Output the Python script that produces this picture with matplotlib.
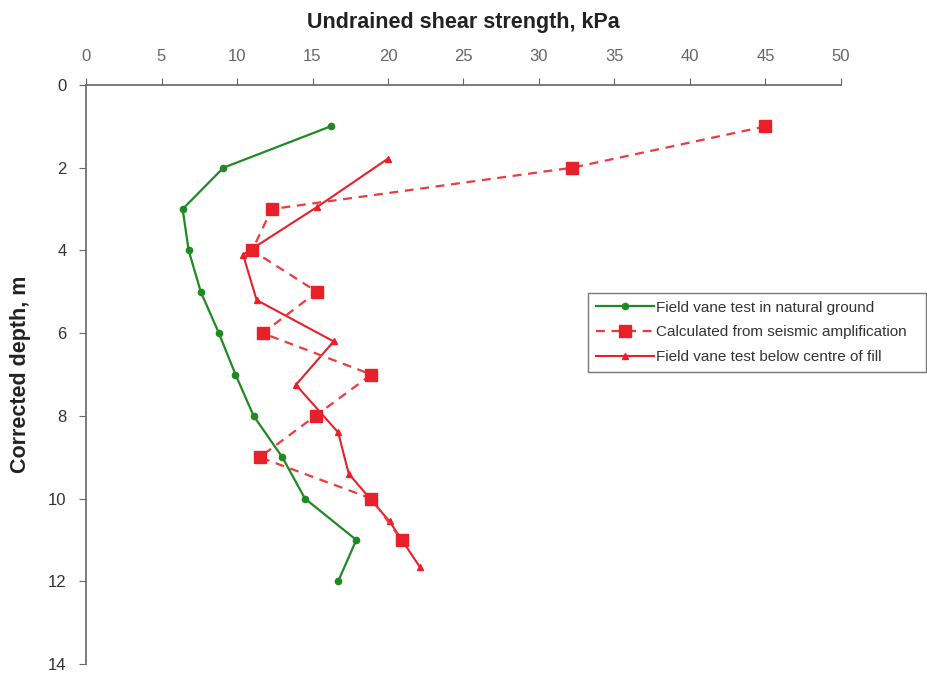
import matplotlib
matplotlib.use("Agg")
import matplotlib.pyplot as plt

plt.rcParams['font.family'] = ['Liberation Sans', 'DejaVu Sans']

# Field vane test in natural ground
green_su = [16.2, 9.1, 6.4, 6.8, 7.6, 8.8, 9.9, 11.1, 13.0, 14.5, 17.9, 16.7]
green_z = [1, 2, 3, 4, 5, 6, 7, 8, 9, 10, 11, 12]

# Calculated from seismic amplification
seis_su = [45.0, 32.2, 12.3, 11.0, 15.3, 11.7, 18.9, 15.2, 11.5, 18.9, 20.9]
seis_z = [1, 2, 3, 4, 5, 6, 7, 8, 9, 10, 11]

# Field vane test below centre of fill
fill_su = [20.0, 15.3, 10.4, 11.3, 16.4, 13.9, 16.7, 17.4, 20.1, 22.1]
fill_z = [1.78, 2.95, 4.1, 5.2, 6.2, 7.25, 8.4, 9.4, 10.55, 11.65]

xticks = [0, 5, 10, 15, 20, 25, 30, 35, 40, 45, 50]
yticks = [0, 2, 4, 6, 8, 10, 12, 14]

fig = plt.figure(figsize=(9.28, 6.73), dpi=100)
ax = fig.add_axes([86/928, 1-664/673, (841-86)/928, (664-85)/673])

green = '#1f8a24'
red = '#e8202a'
red_d = '#ee3a3a'

ax.plot(green_su, green_z, color=green, lw=1.6, marker='o', ms=4.5,
        label='Field vane test in natural ground', zorder=3)
ax.plot(seis_su, seis_z, color=red_d, lw=1.6, ls=(0, (4, 3)), marker='s', ms=9,
        markerfacecolor=red, markeredgecolor=red,
        label='Calculated from seismic amplification', zorder=4)
ax.plot(fill_su, fill_z, color=red, lw=1.5, marker='^', ms=5,
        label='Field vane test below centre of fill', zorder=3)

ax.set_xlim(0, 50)
ax.set_ylim(14, 0)
ax.set_xticks(xticks)
ax.set_yticks(yticks)
ax.xaxis.tick_top()
ax.xaxis.set_label_position('top')
for s in ['right', 'bottom']:
    ax.spines[s].set_visible(False)
for s in ['top', 'left']:
    ax.spines[s].set_color('#666666')
    ax.spines[s].set_linewidth(1.2)
ax.tick_params(axis='x', direction='out', length=5, pad=10, labelsize=12,
               colors='#666666', labelcolor='#666666')
ax.tick_params(axis='y', direction='out', length=5, pad=9, labelsize=12,
               colors='#666666', labelcolor='#333333')
ax.set_xlabel('Undrained shear strength, kPa', fontsize=15.5, fontweight='bold',
              labelpad=15, color='#222222')
ax.set_ylabel('Corrected depth, m', fontsize=15.5, fontweight='bold',
              labelpad=12, color='#222222')

leg = ax.legend(loc='upper left',
                bbox_to_anchor=(588/928, 1-372/673, (926-588)/928, 79/673),
                bbox_transform=fig.transFigure, mode='expand', borderaxespad=0,
                fontsize=11, frameon=True,
                fancybox=False, edgecolor='#555555', handlelength=3.8,
                borderpad=0.5, labelspacing=0.7, handletextpad=0.15)
leg.get_frame().set_linewidth(1.0)
for t in leg.get_texts():
    t.set_color('#333333')

fig.savefig('out.png', dpi=100)
